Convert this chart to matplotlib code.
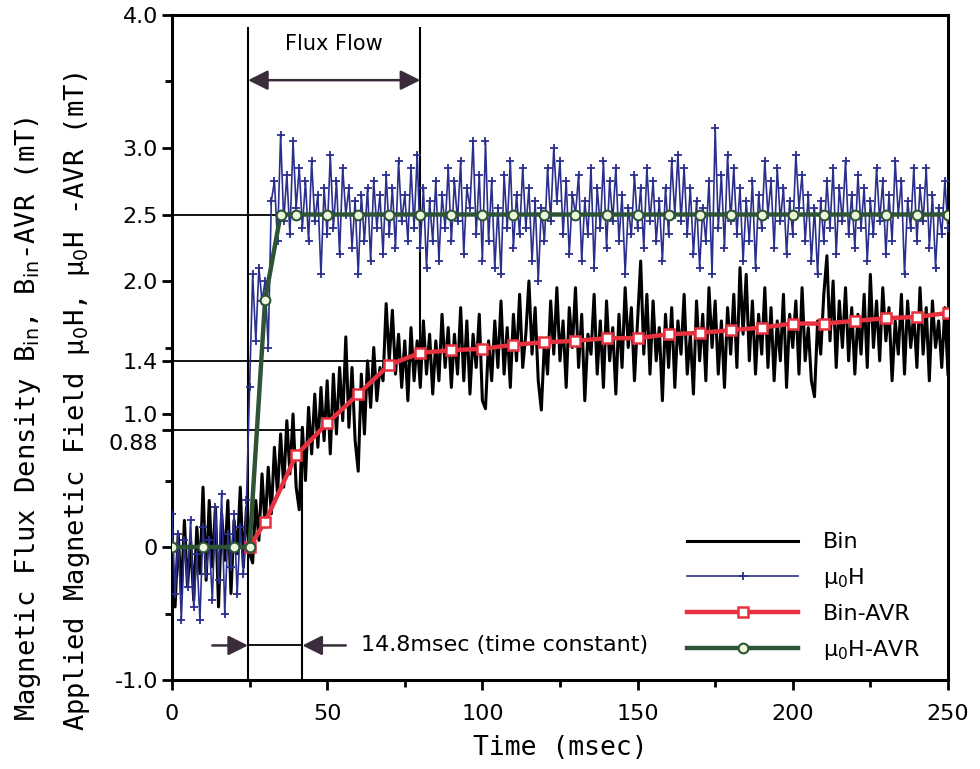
import numpy as np
import matplotlib.pyplot as plt
import matplotlib.transforms as mtransforms

# time axis of the raw signals, 1 msec steps
t = np.arange(0, 251)

bin_raw = [
    -0.15, -0.45, 0.10, -0.35, 0.20, -0.30, 0.05, -0.40, 0.15, -0.20,
    0.45, -0.25, 0.35, -0.15, 0.30, -0.45, 0.25, -0.10, 0.35, -0.35,
    0.20, -0.05, 0.45, -0.15, 0.30, -0.05, -0.12, 0.35, 0.05, 0.55,
    0.15, 0.60, 0.25, 0.75, 0.40, 0.85, 0.45, 0.95, 0.55, 1.00,
    0.45, 0.28, 0.90, 0.50, 1.05, 0.70, 1.15, 0.75, 1.20, 0.80,
    1.25, 0.70, 1.30, 0.85, 1.35, 0.95, 1.58, 0.90, 1.35, 0.80,
    0.57, 1.30, 0.85, 1.40, 1.05, 1.50, 1.10, 1.35, 1.25, 1.83,
    1.40, 1.78, 1.30, 1.60, 1.20, 1.55, 1.10, 1.65, 1.25, 1.55,
    1.20, 1.70, 1.30, 1.60, 1.15, 1.55, 1.25, 1.75, 1.35, 1.65,
    1.20, 1.60, 1.30, 1.80, 1.25, 1.70, 1.15, 1.60, 1.35, 1.75,
    1.10, 1.04, 1.55, 1.25, 1.70, 1.35, 1.85, 1.30, 1.65, 1.20,
    1.75, 1.40, 1.90, 1.35, 1.60, 2.00, 1.45, 1.80, 1.25, 1.03,
    1.55, 1.30, 1.85, 1.45, 1.95, 1.40, 1.70, 1.20, 1.80, 1.50,
    1.95, 1.35, 1.75, 1.10, 1.60, 1.45, 1.90, 1.30, 1.70, 1.20,
    1.85, 1.40, 1.65, 1.15, 1.75, 1.35, 1.95, 1.50, 1.80, 1.25,
    1.70, 2.15, 1.45, 1.90, 1.30, 1.85, 1.40, 1.65, 1.10, 1.75,
    1.35, 1.80, 1.20, 1.70, 1.45, 1.90, 1.30, 1.60, 1.15, 1.85,
    1.40, 1.75, 1.25, 1.95, 1.50, 1.85, 1.30, 1.70, 1.20, 1.80,
    1.45, 1.90, 1.35, 2.10, 1.60, 2.05, 1.40, 1.85, 1.30, 1.75,
    1.45, 1.95, 1.35, 1.80, 1.25, 1.70, 1.40, 1.90, 1.20, 1.75,
    1.50, 1.85, 1.30, 1.95, 1.40, 1.65, 1.25, 1.13, 1.70, 1.45,
    1.90, 2.19, 1.55, 2.00, 1.35, 1.85, 1.50, 1.95, 1.40, 1.80,
    1.30, 1.75, 1.45, 1.90, 1.35, 2.05, 1.50, 1.85, 1.40, 1.95,
    1.55, 1.80, 1.25, 1.70, 1.45, 1.90, 1.30, 1.85, 1.50, 1.75,
    1.35, 1.95, 1.45, 1.80, 1.25, 1.85, 1.50, 1.70, 1.35, 1.80,
    1.30,
]

mu0h_raw = [
    0.25, -0.35, 0.10, -0.55, 0.05, -0.30, 0.20, -0.45, -0.05, -0.55,
    0.15, -0.20, 0.05, -0.40, 0.30, -0.25, 0.40, -0.50, 0.10, -0.15,
    0.25, -0.35, 0.15, -0.20, 0.35, 1.20, 2.05, 1.55, 2.10, 1.85,
    2.00, 1.50, 2.60, 2.75, 2.30, 3.10, 2.45, 2.80, 2.35, 3.05,
    2.55, 2.85, 2.40, 2.75, 2.30, 2.90, 2.45, 2.65, 2.05, 2.70,
    2.35, 2.95, 2.40, 2.75, 2.20, 2.85, 2.50, 2.70, 2.25, 2.60,
    2.05, 2.65, 2.30, 2.70, 2.15, 2.75, 2.40, 2.65, 2.20, 2.80,
    2.35, 2.70, 2.25, 2.90, 2.45, 2.65, 2.30, 2.85, 2.40, 2.95,
    2.25, 2.70, 2.10, 2.60, 2.30, 2.75, 2.15, 2.65, 2.40, 2.85,
    2.30, 2.75, 2.45, 2.90, 2.20, 2.70, 2.55, 3.05, 2.35, 2.80,
    2.15, 3.05, 2.30, 2.75, 2.10, 2.55, 2.05, 2.80, 2.40, 2.90,
    2.25, 2.65, 2.35, 2.85, 2.40, 2.70, 2.15, 2.60, 2.00, 2.55,
    2.30, 2.85, 2.45, 3.00, 2.60, 2.90, 2.35, 2.75, 2.20, 2.65,
    2.50, 2.80, 2.15, 2.60, 2.35, 2.85, 2.10, 2.70, 2.40, 2.90,
    2.25, 2.75, 2.45, 2.85, 2.30, 2.65, 2.05, 2.55, 2.35, 2.80,
    2.40, 2.70, 2.25, 2.85, 2.45, 2.75, 2.30, 2.60, 2.15, 2.70,
    2.35, 2.90, 2.50, 2.95, 2.45, 2.85, 2.35, 2.70, 2.20, 2.60,
    2.10, 2.55, 2.30, 2.75, 2.05, 3.15, 2.40, 2.80, 2.25, 2.95,
    2.45, 2.85, 2.35, 2.70, 2.15, 2.60, 2.30, 2.75, 2.10, 2.65,
    2.40, 2.90, 2.50, 2.75, 2.25, 2.85, 2.45, 2.70, 2.20, 2.60,
    2.35, 2.95, 2.55, 2.80, 2.30, 2.65, 2.15, 2.55, 2.05, 2.60,
    2.30, 2.75, 2.40, 2.85, 2.20, 2.70, 2.45, 2.90, 2.35, 2.65,
    2.25, 2.80, 2.40, 2.70, 2.15, 2.60, 2.35, 2.85, 2.45, 2.75,
    2.20, 2.65, 2.30, 2.90, 2.50, 2.75, 2.05, 2.60, 2.40, 2.85,
    2.30, 2.70, 2.45, 2.85, 2.25, 2.65, 2.10, 2.55, 2.35, 2.75,
    2.40,
]

# averaged curves
bin_avr_t = [25, 30, 40, 50, 60, 70, 80, 90, 100, 110, 120, 130, 140, 150,
             160, 170, 180, 190, 200, 210, 220, 230, 240, 250]
bin_avr = [0.0, 0.19, 0.69, 0.93, 1.15, 1.37, 1.46, 1.48, 1.49, 1.52, 1.54, 1.55,
           1.57, 1.57, 1.60, 1.61, 1.63, 1.65, 1.68, 1.68, 1.70, 1.72, 1.73, 1.76]

mu0h_avr_t = [0, 10, 20, 25, 30, 35, 40, 50, 60, 70, 80, 90, 100, 110, 120, 130,
              140, 150, 160, 170, 180, 190, 200, 210, 220, 230, 240, 250]
mu0h_avr = [0.0, 0.0, 0.0, 0.0, 1.86, 2.5, 2.5, 2.5, 2.5, 2.5, 2.5, 2.5, 2.5, 2.5,
            2.5, 2.5, 2.5, 2.5, 2.5, 2.5, 2.5, 2.5, 2.5, 2.5, 2.5, 2.5, 2.5, 2.5]

ytick_vals = [4.0, 3.0, 2.5, 2.0, 1.4, 1.0, 0.88, 0, -1.0]
ytick_labels = ["4.0", "3.0", "2.5", "2.0", "1.4", "1.0", "0.88", "0", "-1.0"]
yminor = [3.5, 1.5, 0.5, -0.5]

flux_start = 24.5
flux_end = 80
tau_end = 42

fig = plt.figure(figsize=(9.8, 7.69), dpi=100)
ax = fig.add_axes([0.1755, 0.1157, 0.7918, 0.8648])

# guide lines
ax.plot([0, 250], [2.5, 2.5], color='black', lw=1.3, zorder=1)
ax.plot([0, flux_end], [1.4, 1.4], color='black', lw=1.3, zorder=1)
ax.plot([0, tau_end], [0.88, 0.88], color='black', lw=1.3, zorder=1)
ax.plot([flux_start, flux_start], [-1.0, 3.9], color='black', lw=1.5, zorder=1)
ax.plot([flux_end, flux_end], [1.4, 3.9], color='black', lw=1.5, zorder=1)
ax.plot([tau_end, tau_end], [-1.0, 0.88], color='black', lw=1.5, zorder=1)

ax.plot(t, bin_raw, color='black', lw=2.2, label='Bin', zorder=2)
ax.plot(t, mu0h_raw, color='#2b2f8c', lw=1.2, marker='+', ms=6, mew=1.3,
        label='μ$_0$H', zorder=3)
ax.plot(bin_avr_t, bin_avr, color='#e8313f', lw=3.2, marker='s', ms=7.5,
        mfc='white', mec='#e8313f', mew=1.8, label='Bin-AVR', zorder=4)
ax.plot(mu0h_avr_t, mu0h_avr, color='#2e5436', lw=3.2, marker='o', ms=7,
        mfc='#eef7dc', mec='#2e5436', mew=1.5, label='μ$_0$H-AVR', zorder=5)

# annotations
arrow_col = '#3a2c3a'
ax.annotate('', xy=(flux_start, 3.51), xytext=(flux_end, 3.51),
            arrowprops=dict(arrowstyle='<|-|>', color=arrow_col, lw=1.8,
                            mutation_scale=30, shrinkA=0, shrinkB=0))
ax.text((flux_start + flux_end) / 2, 3.78, 'Flux Flow', ha='center', va='center',
        fontsize=15)
ax.plot([flux_start, tau_end], [-0.74, -0.74], color='black', lw=1.3)
ax.annotate('', xy=(flux_start, -0.74), xytext=(13, -0.74),
            arrowprops=dict(arrowstyle='-|>', color=arrow_col, lw=1.8,
                            mutation_scale=30, shrinkA=0, shrinkB=0))
ax.annotate('', xy=(tau_end, -0.74), xytext=(56, -0.74),
            arrowprops=dict(arrowstyle='-|>', color=arrow_col, lw=1.8,
                            mutation_scale=30, shrinkA=0, shrinkB=0))
ax.text(61, -0.74, '14.8msec (time constant)', ha='left', va='center', fontsize=16)

ax.set_xlim(0, 250)
ax.set_ylim(-1.0, 4.0)
ax.set_xticks([0, 50, 100, 150, 200, 250])
ax.set_xticks([25, 75, 125, 175, 225], minor=True)
ax.set_yticks(ytick_vals)
ax.set_yticklabels(ytick_labels)
ax.set_yticks(yminor, minor=True)
ax.tick_params(axis='both', which='major', direction='out', length=7, width=2,
               labelsize=16)
ax.tick_params(axis='x', which='major', pad=10)
ax.tick_params(axis='y', which='major', pad=3)
ax.tick_params(axis='both', which='minor', direction='out', length=5, width=2)
for s in ax.spines.values():
    s.set_linewidth(2.2)

# the 1.0 and 0.88 labels sit close together: nudge the 0.88 label down a bit
for lab in ax.get_yticklabels():
    if lab.get_text() == '0.88':
        lab.set_transform(lab.get_transform() +
                          mtransforms.ScaledTranslation(0, -9 / 72, fig.dpi_scale_trans))

ax.set_xlabel('Time (msec)', fontsize=19, family='DejaVu Sans Mono', labelpad=8)
fig.text(0.029, 0.455, 'Magnetic Flux Density B$_{\\rm in}$, B$_{\\rm in}$-AVR (mT)',
         rotation=90, ha='center', va='center', fontsize=19.5,
         family='DejaVu Sans Mono')
fig.text(0.079, 0.478, 'Applied Magnetic Field μ$_0$H, μ$_0$H -AVR (mT)',
         rotation=90, ha='center', va='center', fontsize=19.5,
         family='DejaVu Sans Mono')

leg = ax.legend(loc='upper left', bbox_to_anchor=(0.664, 0.222), frameon=False,
                fontsize=16, handlelength=5.0, handletextpad=1.1,
                labelspacing=0.62, borderpad=0, borderaxespad=0)

fig.savefig('out.png', dpi=100)
